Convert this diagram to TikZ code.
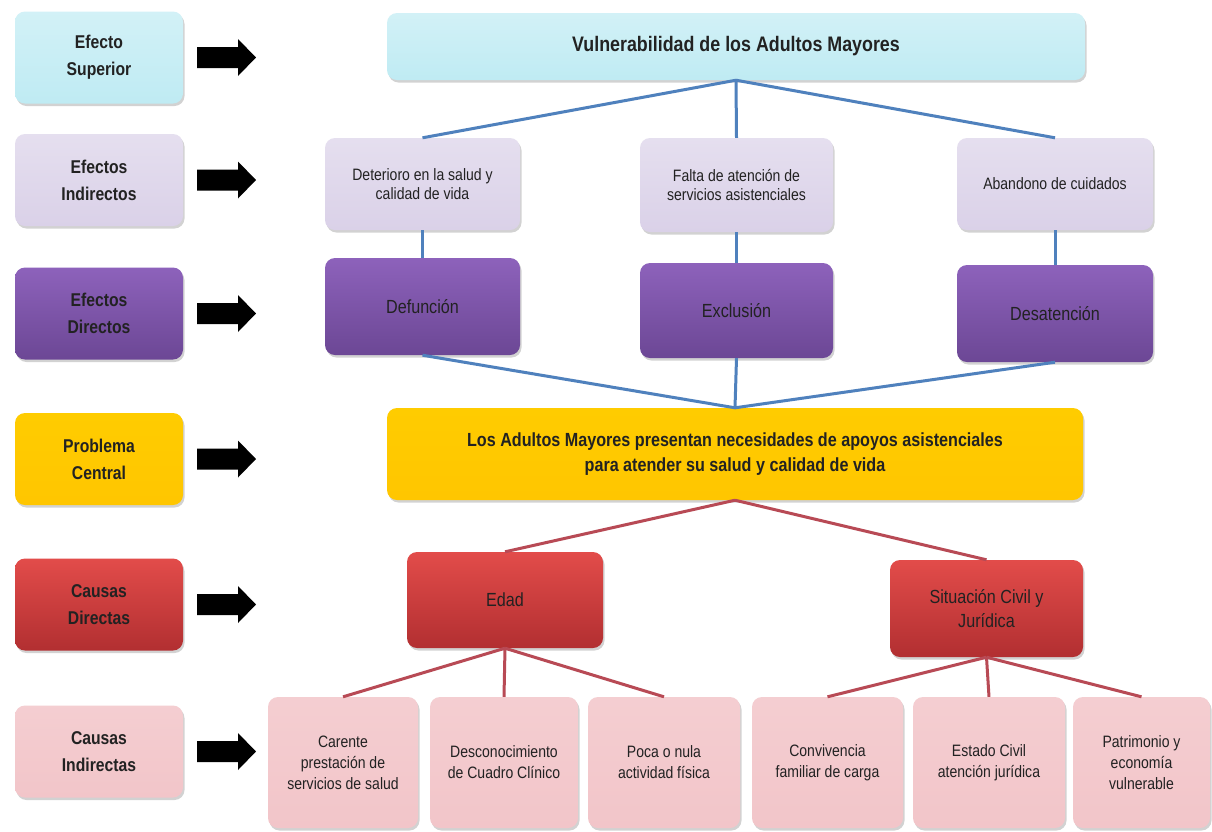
\documentclass[tikz,border=0pt]{standalone}
\usepackage{fontspec}
\setmainfont[FakeStretch=0.85]{Liberation Sans}
\usetikzlibrary{shadows}

\definecolor{cian}{HTML}{BFEBF3}
\definecolor{lila}{HTML}{DAD1E8}
\definecolor{morado}{HTML}{8D62BB}
\definecolor{moradoosc}{HTML}{6C4795}
\definecolor{amarillo}{HTML}{FFCC00}
\definecolor{rojo}{HTML}{E24C4A}
\definecolor{rojoosc}{HTML}{B22F31}
\definecolor{rosa}{HTML}{F2C5C9}
\definecolor{lineaazul}{HTML}{4F81BD}
\definecolor{linearoja}{HTML}{B84A55}
\definecolor{texto}{HTML}{222222}

\tikzset{
    caja/.style={rounded corners=10pt, text=texto, align=center,
        drop shadow={shadow xshift=1.5pt, shadow yshift=-2.5pt, opacity=.35}},
    nivel/.style={caja, minimum width=168pt, minimum height=92pt,
        font=\fontsize{18.5}{27}\selectfont\bfseries},
    superior/.style={top color=cian!70!white, bottom color=cian},
    indirecto/.style={top color=lila!70!white, bottom color=lila},
    directo/.style={top color=morado, bottom color=moradoosc},
    central/.style={top color=amarillo, bottom color=amarillo!92!orange},
    causa/.style={top color=rojo, bottom color=rojoosc},
    subcausa/.style={top color=rosa!85!white, bottom color=rosa},
    ramaazul/.style={lineaazul, line width=3pt},
    ramaroja/.style={linearoja, line width=3pt},
}

\begin{document}
\begin{tikzpicture}[x=1pt, y=-1pt]
    \useasboundingbox[fill=white] (0,0) rectangle (1212,831);

    % columna de niveles
    \node[nivel, superior] (lsup) at (99,57.5) {Efecto\\Superior};
    \node[nivel, indirecto] (lind) at (99,180) {Efectos\\Indirectos};
    \node[nivel, directo] (ldir) at (99,313.5) {Efectos\\Directos};
    \node[nivel, central] (lprob) at (99,459) {Problema\\Central};
    \node[nivel, causa] (lcdir) at (99,604.5) {Causas\\Directas};
    \node[nivel, subcausa] (lcind) at (99,751.5) {Causas\\Indirectas};

    % flechas
    \foreach \y in {57.5,180,313.5,459,604.5,751.5}
        \fill[black] (197,\y-10.5) -- (238,\y-10.5) -- (238,\y-18.5)
            -- (256,\y) -- (238,\y+18.5) -- (238,\y+10.5)
            -- (197,\y+10.5) -- cycle;

    % efectos
    \node[caja, superior, minimum width=698pt, minimum height=67pt,
        font=\fontsize{21}{24}\selectfont\bfseries] (vuln) at (736,46.5)
        {Vulnerabilidad de los Adultos Mayores};

    \node[caja, indirecto, minimum width=195pt, minimum height=92pt,
        font=\fontsize{16.5}{19}\selectfont] (deter) at (422.5,184)
        {Deterioro en la salud y\\calidad de vida};
    \node[caja, indirecto, minimum width=193pt, minimum height=94pt,
        font=\fontsize{16.5}{19}\selectfont] (falta) at (736.5,185)
        {Falta de atención de\\servicios asistenciales};
    \node[caja, indirecto, minimum width=196pt, minimum height=92pt,
        font=\fontsize{16.5}{19}\selectfont] (aband) at (1055,184)
        {Abandono de cuidados};

    \node[caja, directo, minimum width=195pt, minimum height=97pt,
        font=\fontsize{19}{22}\selectfont] (defun) at (422.5,306.5) {Defunción};
    \node[caja, directo, minimum width=193pt, minimum height=95pt,
        font=\fontsize{19}{22}\selectfont] (exclu) at (736.5,310.5) {Exclusión};
    \node[caja, directo, minimum width=196pt, minimum height=97pt,
        font=\fontsize{19}{22}\selectfont] (desat) at (1055,313.5) {Desatención};

    % problema
    \node[caja, central, minimum width=696pt, minimum height=92pt,
        font=\fontsize{19}{25}\selectfont\bfseries] (probl) at (735,454)
        {Los Adultos Mayores presentan necesidades de apoyos asistenciales\\
         para atender su salud y calidad de vida};

    % causas
    \node[caja, causa, minimum width=196pt, minimum height=96pt,
        font=\fontsize{19}{24}\selectfont] (edad) at (505,600) {Edad};
    \node[caja, causa, minimum width=193pt, minimum height=97pt,
        font=\fontsize{19}{24}\selectfont] (situa) at (986.5,608.5)
        {Situación Civil y\\Jurídica};

    \node[caja, subcausa, minimum width=150pt, minimum height=131pt,
        font=\fontsize{16.5}{21}\selectfont] (caren) at (343,762.5)
        {Carente\\prestación de\\servicios de salud};
    \node[caja, subcausa, minimum width=148pt, minimum height=131pt,
        font=\fontsize{16.5}{21}\selectfont] (desco) at (504,762.5)
        {Desconocimiento\\de Cuadro Clínico};
    \node[caja, subcausa, minimum width=152pt, minimum height=131pt,
        font=\fontsize{16.5}{21}\selectfont] (poca) at (664,762.5)
        {Poca o nula\\actividad física};
    \node[caja, subcausa, minimum width=151pt, minimum height=131pt,
        font=\fontsize{16.5}{21}\selectfont] (convi) at (827.5,762.5)
        {Convivencia\\familiar de carga};
    \node[caja, subcausa, minimum width=152pt, minimum height=131pt,
        font=\fontsize{16.5}{21}\selectfont] (estad) at (989,762.5)
        {Estado Civil\\atención jurídica};
    \node[caja, subcausa, minimum width=137pt, minimum height=131pt,
        font=\fontsize{16.5}{21}\selectfont] (patri) at (1141.5,762.5)
        {Patrimonio y\\economía\\vulnerable};

    % ramas
    \draw[ramaazul] (vuln.south) -- (deter.north);
    \draw[ramaazul] (vuln.south) -- (falta.north);
    \draw[ramaazul] (vuln.south) -- (aband.north);
    \draw[ramaazul] (deter.south) -- (defun.north);
    \draw[ramaazul] (falta.south) -- (exclu.north);
    \draw[ramaazul] (aband.south) -- (desat.north);
    \draw[ramaazul] (defun.south) -- (probl.north);
    \draw[ramaazul] (exclu.south) -- (probl.north);
    \draw[ramaazul] (desat.south) -- (probl.north);

    \draw[ramaroja] (probl.south) -- (edad.north);
    \draw[ramaroja] (probl.south) -- (situa.north);
    \draw[ramaroja] (edad.south) -- (caren.north);
    \draw[ramaroja] (edad.south) -- (desco.north);
    \draw[ramaroja] (edad.south) -- (poca.north);
    \draw[ramaroja] (situa.south) -- (convi.north);
    \draw[ramaroja] (situa.south) -- (estad.north);
    \draw[ramaroja] (situa.south) -- (patri.north);
\end{tikzpicture}
\end{document}
